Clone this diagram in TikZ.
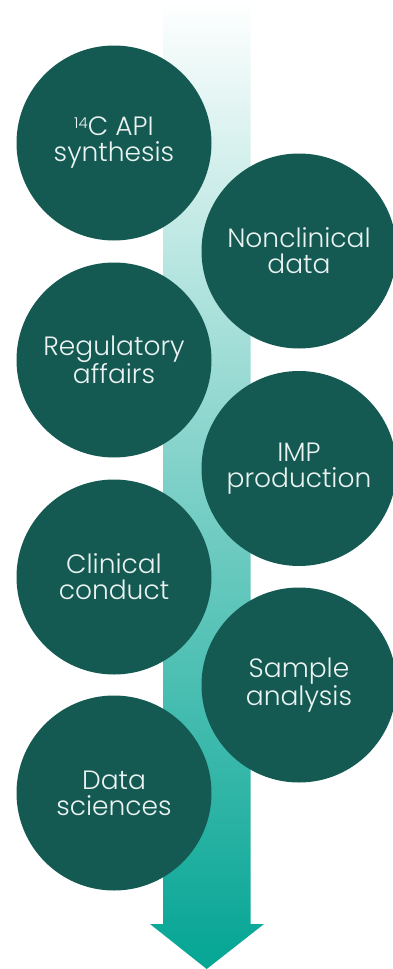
\documentclass[tikz,border=0pt]{standalone}
\usepackage{fontspec}
\setmainfont{Poppins Light}
\definecolor{circgreen}{HTML}{155A52}
\definecolor{arrowteal}{HTML}{04A594}
\definecolor{txt}{HTML}{EAF3F1}
\begin{document}
\begin{tikzpicture}[x=1pt,y=-1pt,
  stepcirc/.style={circle, fill=circgreen, minimum size=195pt, inner sep=0pt,
    text=txt, align=center, font=\fontsize{26.5}{26}\selectfont}]
\useasboundingbox (0,0) rectangle (393,969);
\shade[top color=white, bottom color=arrowteal, middle color=arrowteal!52!white]
  (163,0) -- (250.5,0) -- (250.5,924) -- (264,924) -- (206.7,969) -- (150,924) -- (163,924) -- cycle;
\node[stepcirc] (c1) at (114,143) {{\fontsize{15}{15}\selectfont\raisebox{7pt}{14}}C API\\synthesis};
\node[stepcirc] (c2) at (299,251) {Nonclinical\\data};
\node[stepcirc] (c3) at (114,360) {Regulatory\\affairs};
\node[stepcirc] (c4) at (299,468.5) {IMP\\production};
\node[stepcirc] (c5) at (114,577) {Clinical\\conduct};
\node[stepcirc] (c6) at (299,685) {Sample\\analysis};
\node[stepcirc] (c7) at (114,793) {Data\\sciences};
\end{tikzpicture}
\end{document}
